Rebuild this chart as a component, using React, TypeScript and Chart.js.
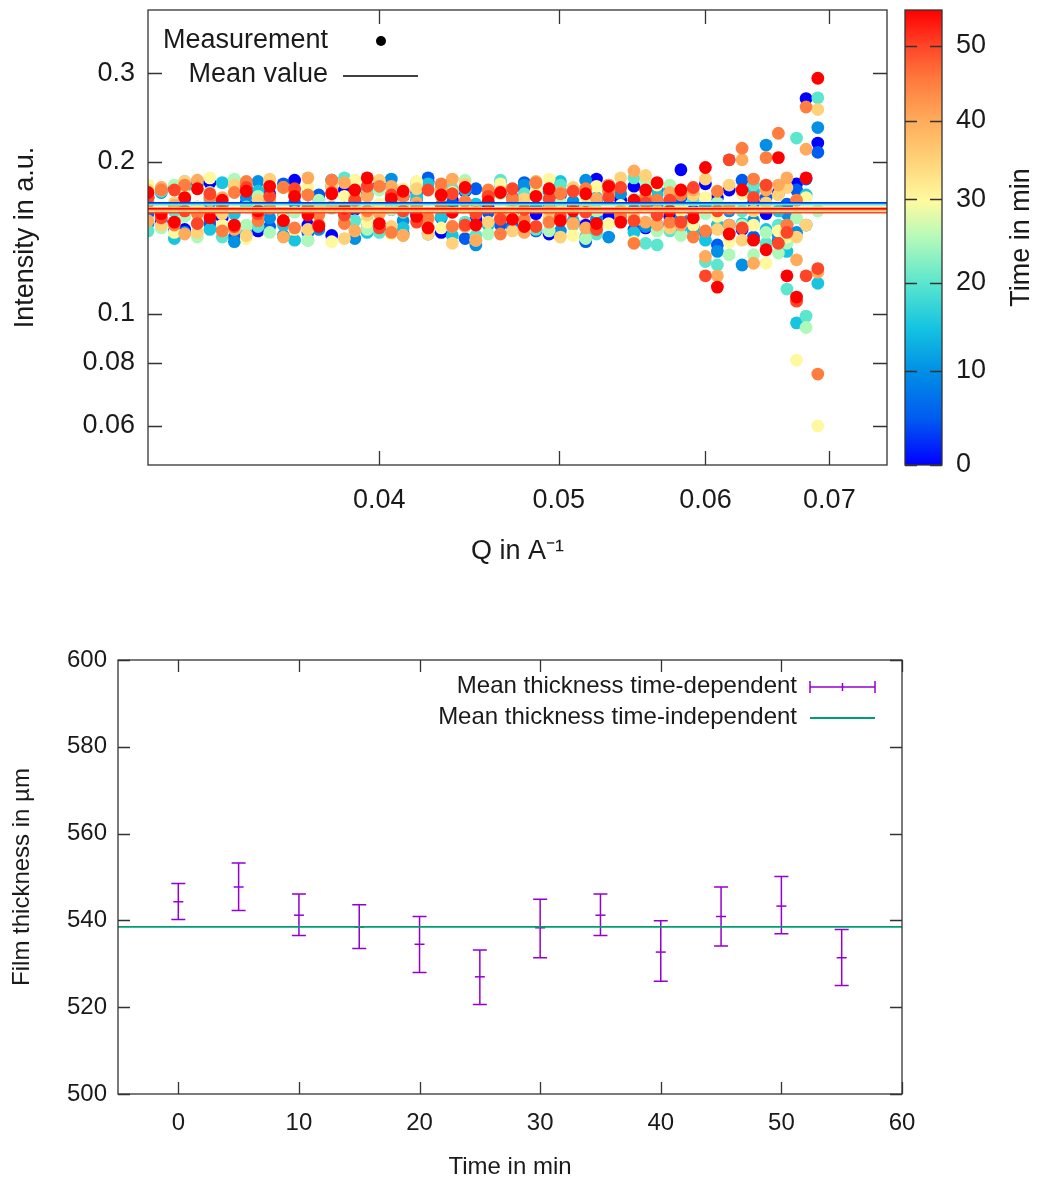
import React, { useEffect, useRef } from "react";
import { Chart, registerables } from "chart.js";

Chart.register(...registerables);

const FONT = "'Liberation Sans', Arial, sans-serif";
const TEXT = "#1a1a1a";
const FRAME = "#333333";
const PURPLE = "#9400D3";
const GREEN = "#009E73";

// ---------- top chart: intensity vs Q ----------
const Q = [
  0.0300, 0.0305, 0.0310, 0.0314, 0.0319, 0.0324, 0.0329, 0.0334, 0.0339, 0.0344,
  0.0349, 0.0355, 0.0360, 0.0366, 0.0371, 0.0377, 0.0383, 0.0388, 0.0394, 0.0400,
  0.0406, 0.0412, 0.0419, 0.0425, 0.0432, 0.0438, 0.0445, 0.0451, 0.0458, 0.0465,
  0.0472, 0.0479, 0.0486, 0.0494, 0.0501, 0.0509, 0.0517, 0.0524, 0.0532, 0.0540,
  0.0549, 0.0557, 0.0565, 0.0574, 0.0582, 0.0591, 0.0600, 0.0609, 0.0618, 0.0628,
  0.0637, 0.0647, 0.0657, 0.0664, 0.0672, 0.0680, 0.0690,
];
const TIMES = [0, 5, 10, 15, 20, 25, 30, 35, 40, 45, 50, 55];

const I_T00 = [0.170, 0.152, 0.178, 0.147, 0.160, 0.182, 0.155, 0.179, 0.166, 0.146, 0.173, 0.158, 0.184, 0.150, 0.169, 0.143, 0.176, 0.161, 0.152, 0.180, 0.148, 0.171, 0.157, 0.183, 0.145, 0.168, 0.175, 0.154, 0.162, 0.181, 0.149, 0.177, 0.158, 0.144, 0.172, 0.163, 0.150, 0.185, 0.156, 0.168, 0.179, 0.148, 0.150, 0.156, 0.193, 0.160, 0.181, 0.170, 0.176, 0.147, 0.166, 0.158, 0.174, 0.150, 0.181, 0.267, 0.218];
const I_T05 = [0.158, 0.176, 0.146, 0.169, 0.183, 0.151, 0.164, 0.142, 0.178, 0.160, 0.149, 0.181, 0.166, 0.145, 0.172, 0.184, 0.153, 0.167, 0.147, 0.179, 0.161, 0.144, 0.174, 0.186, 0.155, 0.165, 0.141, 0.177, 0.159, 0.150, 0.170, 0.182, 0.146, 0.163, 0.175, 0.152, 0.139, 0.168, 0.180, 0.157, 0.147, 0.171, 0.164, 0.176, 0.170, 0.149, 0.145, 0.137, 0.150, 0.184, 0.142, 0.170, 0.140, 0.165, 0.176, 0.185, 0.209];
const I_T10 = [0.151, 0.174, 0.160, 0.145, 0.181, 0.166, 0.149, 0.139, 0.170, 0.183, 0.155, 0.143, 0.176, 0.162, 0.147, 0.179, 0.158, 0.141, 0.172, 0.164, 0.185, 0.153, 0.168, 0.144, 0.177, 0.160, 0.150, 0.137, 0.171, 0.182, 0.148, 0.180, 0.163, 0.175, 0.146, 0.167, 0.184, 0.154, 0.142, 0.173, 0.161, 0.149, 0.176, 0.150, 0.155, 0.172, 0.164, 0.133, 0.160, 0.125, 0.153, 0.216, 0.143, 0.158, 0.145, 0.150, 0.234];
const I_T15 = [0.172, 0.155, 0.141, 0.178, 0.163, 0.147, 0.182, 0.158, 0.144, 0.175, 0.166, 0.150, 0.140, 0.173, 0.160, 0.184, 0.152, 0.169, 0.145, 0.177, 0.162, 0.148, 0.171, 0.181, 0.156, 0.143, 0.176, 0.165, 0.150, 0.180, 0.158, 0.146, 0.174, 0.161, 0.183, 0.153, 0.142, 0.170, 0.179, 0.157, 0.145, 0.167, 0.172, 0.168, 0.148, 0.146, 0.140, 0.150, 0.202, 0.151, 0.175, 0.147, 0.160, 0.133, 0.096, 0.172, 0.115];
const I_T20 = [0.146, 0.175, 0.160, 0.183, 0.151, 0.168, 0.142, 0.178, 0.163, 0.149, 0.181, 0.157, 0.172, 0.140, 0.166, 0.162, 0.186, 0.153, 0.176, 0.145, 0.170, 0.159, 0.182, 0.148, 0.164, 0.177, 0.152, 0.143, 0.169, 0.184, 0.155, 0.173, 0.147, 0.161, 0.180, 0.150, 0.167, 0.144, 0.176, 0.158, 0.186, 0.138, 0.137, 0.146, 0.175, 0.168, 0.127, 0.125, 0.145, 0.160, 0.180, 0.138, 0.150, 0.112, 0.223, 0.099, 0.268];
const I_T25 = [0.167, 0.148, 0.180, 0.156, 0.142, 0.174, 0.162, 0.185, 0.150, 0.171, 0.145, 0.178, 0.159, 0.140, 0.168, 0.182, 0.153, 0.164, 0.147, 0.176, 0.161, 0.143, 0.179, 0.155, 0.170, 0.149, 0.184, 0.158, 0.144, 0.173, 0.163, 0.151, 0.181, 0.146, 0.166, 0.177, 0.141, 0.160, 0.175, 0.152, 0.169, 0.183, 0.146, 0.180, 0.143, 0.155, 0.158, 0.166, 0.131, 0.150, 0.131, 0.145, 0.132, 0.138, 0.155, 0.094, 0.160];
const I_T30 = [0.180, 0.157, 0.145, 0.172, 0.163, 0.186, 0.150, 0.176, 0.141, 0.168, 0.182, 0.154, 0.147, 0.178, 0.160, 0.139, 0.171, 0.184, 0.152, 0.165, 0.144, 0.177, 0.183, 0.158, 0.148, 0.174, 0.162, 0.140, 0.169, 0.181, 0.155, 0.146, 0.175, 0.185, 0.159, 0.143, 0.167, 0.179, 0.151, 0.164, 0.139, 0.173, 0.180, 0.165, 0.160, 0.150, 0.170, 0.156, 0.139, 0.173, 0.150, 0.126, 0.146, 0.142, 0.081, 0.170, 0.060];
const I_T35 = [0.176, 0.150, 0.166, 0.183, 0.145, 0.171, 0.158, 0.180, 0.143, 0.168, 0.185, 0.153, 0.174, 0.147, 0.162, 0.179, 0.141, 0.170, 0.157, 0.184, 0.149, 0.165, 0.177, 0.144, 0.172, 0.138, 0.181, 0.160, 0.152, 0.175, 0.146, 0.169, 0.182, 0.155, 0.142, 0.178, 0.163, 0.148, 0.173, 0.186, 0.156, 0.188, 0.160, 0.148, 0.176, 0.172, 0.185, 0.147, 0.180, 0.140, 0.160, 0.166, 0.172, 0.178, 0.142, 0.150, 0.254];
const I_T40 = [0.153, 0.178, 0.164, 0.144, 0.184, 0.159, 0.170, 0.147, 0.181, 0.156, 0.167, 0.142, 0.175, 0.186, 0.150, 0.163, 0.182, 0.146, 0.171, 0.158, 0.179, 0.143, 0.166, 0.154, 0.176, 0.185, 0.149, 0.140, 0.173, 0.157, 0.168, 0.145, 0.183, 0.161, 0.174, 0.151, 0.148, 0.169, 0.180, 0.160, 0.192, 0.152, 0.150, 0.174, 0.150, 0.176, 0.130, 0.119, 0.150, 0.202, 0.126, 0.176, 0.180, 0.186, 0.128, 0.212, 0.121];
const I_T45 = [0.166, 0.176, 0.150, 0.180, 0.158, 0.170, 0.146, 0.174, 0.183, 0.153, 0.162, 0.178, 0.148, 0.172, 0.157, 0.184, 0.151, 0.168, 0.160, 0.179, 0.145, 0.171, 0.163, 0.155, 0.181, 0.149, 0.167, 0.159, 0.176, 0.144, 0.169, 0.154, 0.182, 0.152, 0.173, 0.161, 0.177, 0.147, 0.175, 0.156, 0.138, 0.170, 0.168, 0.152, 0.172, 0.142, 0.146, 0.175, 0.162, 0.213, 0.185, 0.204, 0.228, 0.150, 0.168, 0.257, 0.076];
const I_T50 = [0.170, 0.155, 0.176, 0.160, 0.151, 0.173, 0.165, 0.149, 0.178, 0.158, 0.171, 0.153, 0.177, 0.162, 0.150, 0.174, 0.157, 0.168, 0.179, 0.148, 0.172, 0.160, 0.152, 0.176, 0.164, 0.173, 0.150, 0.158, 0.171, 0.154, 0.177, 0.161, 0.149, 0.169, 0.156, 0.175, 0.159, 0.147, 0.170, 0.178, 0.153, 0.166, 0.157, 0.168, 0.152, 0.178, 0.119, 0.160, 0.202, 0.148, 0.170, 0.180, 0.138, 0.145, 0.106, 0.119, 0.123];
const I_T55 = [0.174, 0.158, 0.152, 0.170, 0.177, 0.155, 0.168, 0.150, 0.175, 0.160, 0.179, 0.153, 0.171, 0.157, 0.149, 0.173, 0.162, 0.176, 0.186, 0.151, 0.169, 0.175, 0.156, 0.148, 0.172, 0.159, 0.178, 0.150, 0.167, 0.174, 0.154, 0.149, 0.171, 0.177, 0.153, 0.160, 0.173, 0.151, 0.179, 0.152, 0.168, 0.176, 0.182, 0.160, 0.176, 0.155, 0.195, 0.113, 0.144, 0.176, 0.140, 0.134, 0.204, 0.119, 0.108, 0.186, 0.293];

const MEAN_I = [0.1660, 0.1656, 0.1650, 0.1612, 0.1645, 0.1620, 0.1600, 0.1592, 0.1625, 0.1608, 0.1586, 0.1616];

const Q_MIN = 0.03;
const Q_MAX = 0.0752;
const I_MIN = 0.0502;
const I_MAX = 0.40;
const Q_TICKS = [0.04, 0.05, 0.06, 0.07];
const I_TICKS = [0.06, 0.08, 0.1, 0.2, 0.3];
const TOP_LEGEND = ["Measurement", "Mean value"];

// colour box (time scale)
const CB_TICKS = [0, 10, 20, 30, 40, 50];
const CB_MAX = 55;
const CB_OFFSET = 150;

// ---------- bottom chart: film thickness ----------
const T = [0, 5, 10, 15, 20, 25, 30, 35, 40, 45, 50, 55];
const THICK_MEAN = [544.3, 547.7, 541.2, 538.5, 534.5, 527.0, 538.3, 541.2, 532.7, 540.9, 543.3, 531.4];
const THICK_LOW = [540.2, 542.3, 536.5, 533.5, 528.0, 520.6, 531.4, 536.5, 526.0, 534.1, 536.9, 525.0];
const THICK_HIGH = [548.5, 553.2, 546.1, 543.6, 540.9, 533.2, 544.9, 546.1, 539.9, 547.7, 550.1, 537.9];
const THICK_GLOBAL = 538.5;
const T_MIN = -5;
const T_MAX = 60;
const T_TICKS = [0, 10, 20, 30, 40, 50, 60];
const TH_TICKS = [500, 520, 540, 560, 580, 600];
const BOTTOM_LEGEND = ["Mean thickness time-dependent", "Mean thickness time-independent"];

// ---------- palette ----------
type RGB = [number, number, number];
const PALETTE: [number, RGB][] = [
  [0, [0, 0, 255]],
  [0.1, [0, 90, 240]],
  [0.2, [0, 140, 230]],
  [0.3, [20, 195, 225]],
  [0.4, [90, 230, 205]],
  [0.5, [180, 250, 185]],
  [0.58, [255, 250, 160]],
  [0.67, [255, 210, 120]],
  [0.76, [255, 170, 90]],
  [0.85, [255, 120, 60]],
  [0.92, [255, 70, 40]],
  [1, [255, 0, 0]],
];
const rgb = (c: RGB) => `rgb(${Math.round(c[0])},${Math.round(c[1])},${Math.round(c[2])})`;
function paletteAt(f: number): string {
  const v = Math.max(0, Math.min(1, f));
  for (let i = 1; i < PALETTE.length; i++) {
    const [f0, c0] = PALETTE[i - 1];
    const [f1, c1] = PALETTE[i];
    if (v <= f1) {
      const k = (v - f0) / (f1 - f0);
      return rgb([c0[0] + (c1[0] - c0[0]) * k, c0[1] + (c1[1] - c0[1]) * k, c0[2] + (c1[2] - c0[2]) * k]);
    }
  }
  return rgb(PALETTE[PALETTE.length - 1][1]);
}
const cbFraction = (t: number) =>
  Math.log((t + CB_OFFSET) / CB_OFFSET) / Math.log((CB_MAX + CB_OFFSET) / CB_OFFSET);

// fixed-size axis boxes without extra label padding
const fixWidth = (w: number) => (s: any) => {
  s.width = w;
  s.paddingTop = 0;
  s.paddingBottom = 0;
};
const fixHeight = (h: number) => (s: any) => {
  s.height = h;
  s.paddingLeft = 0;
  s.paddingRight = 0;
};

// ---------- plugins ----------
const frameTicks = (tickLen: number) => ({
  id: "frameTicks",
  afterDatasetsDraw(chart: any) {
    const { ctx, chartArea: a } = chart;
    const xs = chart.scales.x;
    const ys = chart.scales.y;
    ctx.save();
    ctx.strokeStyle = FRAME;
    ctx.lineWidth = 1.3;
    ctx.beginPath();
    xs.ticks.forEach((t: any) => {
      const px = Math.round(xs.getPixelForValue(t.value)) + 0.5;
      ctx.moveTo(px, a.bottom);
      ctx.lineTo(px, a.bottom - tickLen);
      ctx.moveTo(px, a.top);
      ctx.lineTo(px, a.top + tickLen);
    });
    ys.ticks.forEach((t: any) => {
      const py = Math.round(ys.getPixelForValue(t.value)) + 0.5;
      ctx.moveTo(a.left, py);
      ctx.lineTo(a.left + tickLen, py);
      ctx.moveTo(a.right, py);
      ctx.lineTo(a.right - tickLen, py);
    });
    ctx.stroke();
    ctx.strokeRect(a.left, a.top, a.right - a.left, a.bottom - a.top);
    ctx.restore();
  },
});

const topLegend = {
  id: "topLegend",
  afterDraw(chart: any) {
    const { ctx, chartArea: a } = chart;
    ctx.save();
    ctx.font = `27px ${FONT}`;
    ctx.fillStyle = TEXT;
    ctx.textAlign = "right";
    ctx.textBaseline = "middle";
    ctx.fillText(TOP_LEGEND[0], a.left + 180, a.top + 31);
    ctx.fillText(TOP_LEGEND[1], a.left + 180, a.top + 65);
    ctx.beginPath();
    ctx.arc(a.left + 233, a.top + 31, 5, 0, Math.PI * 2);
    ctx.fillStyle = "#000";
    ctx.fill();
    ctx.beginPath();
    ctx.strokeStyle = "#000";
    ctx.lineWidth = 1.5;
    ctx.moveTo(a.left + 195, a.top + 66);
    ctx.lineTo(a.left + 270, a.top + 66);
    ctx.stroke();
    ctx.restore();
  },
};

const colorBox = {
  id: "colorBox",
  beforeDatasetsDraw(chart: any) {
    const { ctx, chartArea: a } = chart;
    const g = ctx.createLinearGradient(0, a.bottom, 0, a.top);
    PALETTE.forEach(([f, c]) => g.addColorStop(f, rgb(c)));
    ctx.save();
    ctx.fillStyle = g;
    ctx.fillRect(a.left, a.top, a.right - a.left, a.bottom - a.top);
    ctx.restore();
  },
  afterDraw(chart: any) {
    const { ctx, chartArea: a } = chart;
    const ys = chart.scales.y;
    ctx.save();
    ctx.strokeStyle = FRAME;
    ctx.lineWidth = 1.3;
    ctx.beginPath();
    ys.ticks.forEach((t: any) => {
      const py = Math.round(ys.getPixelForValue(t.value)) + 0.5;
      ctx.moveTo(a.left, py);
      ctx.lineTo(a.left + 12, py);
      ctx.moveTo(a.right, py);
      ctx.lineTo(a.right - 12, py);
    });
    ctx.stroke();
    ctx.strokeRect(a.left, a.top, a.right - a.left, a.bottom - a.top);
    ctx.translate(a.right + 80, (a.top + a.bottom) / 2);
    ctx.rotate(-Math.PI / 2);
    ctx.font = `27px ${FONT}`;
    ctx.fillStyle = TEXT;
    ctx.textAlign = "center";
    ctx.textBaseline = "middle";
    ctx.fillText("Time in min", 0, 0);
    ctx.restore();
  },
};

const errorBars = {
  id: "errorBars",
  beforeDatasetsDraw(chart: any) {
    const { ctx } = chart;
    const xs = chart.scales.x;
    const ys = chart.scales.y;
    ctx.save();
    ctx.strokeStyle = PURPLE;
    ctx.lineWidth = 1.5;
    ctx.beginPath();
    T.forEach((t, i) => {
      const px = xs.getPixelForValue(t);
      const y1 = ys.getPixelForValue(THICK_LOW[i]);
      const y2 = ys.getPixelForValue(THICK_HIGH[i]);
      ctx.moveTo(px, y1);
      ctx.lineTo(px, y2);
      ctx.moveTo(px - 7, y1);
      ctx.lineTo(px + 7, y1);
      ctx.moveTo(px - 7, y2);
      ctx.lineTo(px + 7, y2);
    });
    ctx.stroke();
    ctx.restore();
  },
};

const bottomLegend = {
  id: "bottomLegend",
  afterDraw(chart: any) {
    const { ctx, chartArea: a } = chart;
    ctx.save();
    ctx.font = `24px ${FONT}`;
    ctx.fillStyle = TEXT;
    ctx.textAlign = "right";
    ctx.textBaseline = "middle";
    const tx = a.right - 105;
    ctx.fillText(BOTTOM_LEGEND[0], tx, a.top + 26);
    ctx.fillText(BOTTOM_LEGEND[1], tx, a.top + 57);
    const x0 = a.right - 92;
    const x1 = a.right - 27;
    const y0 = a.top + 27;
    ctx.strokeStyle = PURPLE;
    ctx.lineWidth = 1.5;
    ctx.beginPath();
    ctx.moveTo(x0, y0);
    ctx.lineTo(x1, y0);
    ctx.moveTo(x0, y0 - 6);
    ctx.lineTo(x0, y0 + 6);
    ctx.moveTo(x1, y0 - 6);
    ctx.lineTo(x1, y0 + 6);
    const xm = (x0 + x1) / 2;
    ctx.moveTo(xm, y0 - 4);
    ctx.lineTo(xm, y0 + 4);
    ctx.stroke();
    ctx.strokeStyle = GREEN;
    ctx.lineWidth = 1.8;
    ctx.beginPath();
    ctx.moveTo(x0, a.top + 58);
    ctx.lineTo(x1, a.top + 58);
    ctx.stroke();
    ctx.restore();
  },
};

// ---------- configs ----------
const SERIES = [I_T00, I_T05, I_T10, I_T15, I_T20, I_T25, I_T30, I_T35, I_T40, I_T45, I_T50, I_T55];

function topConfig(): any {
  const points = SERIES.map((vals, i) => {
    const c = paletteAt(cbFraction(TIMES[i]));
    return {
      type: "scatter",
      label: `${TOP_LEGEND[0]} t=${TIMES[i]} min`,
      data: Q.map((q, j) => ({ x: q, y: vals[j] })),
      pointBackgroundColor: c,
      backgroundColor: c,
      pointBorderWidth: 0,
      borderWidth: 0,
      pointRadius: 6.4,
      pointHoverRadius: 6.4,
      order: 100 - i,
    };
  });
  const means = MEAN_I.map((m, i) => ({
    type: "scatter",
    label: `${TOP_LEGEND[1]} t=${TIMES[i]} min`,
    showLine: true,
    data: [
      { x: Q_MIN, y: m },
      { x: Q_MAX, y: m },
    ],
    borderColor: paletteAt(cbFraction(TIMES[i])),
    borderWidth: 1.6,
    pointRadius: 0,
    order: 20 - i,
  }));
  const tickFont = { family: FONT, size: 27 };
  return {
    type: "scatter",
    data: { datasets: [...points, ...means] },
    options: {
      animation: false,
      responsive: false,
      devicePixelRatio: 1,
      events: [],
      layout: { autoPadding: false, padding: { top: 10, right: 8, left: 0, bottom: 0 } },
      plugins: { legend: { display: false }, tooltip: { enabled: false } },
      scales: {
        x: {
          type: "logarithmic",
          min: Q_MIN,
          max: Q_MAX,
          afterBuildTicks: (s: any) => {
            s.ticks = Q_TICKS.map((v) => ({ value: v }));
          },
          afterFit: fixHeight(115),
          grid: { display: false, drawTicks: false },
          border: { display: false },
          ticks: { autoSkip: false, maxRotation: 0, padding: 19, color: TEXT, font: tickFont, callback: (v: any) => String(v) },
          title: { display: true, text: "Q in A⁻¹", color: TEXT, font: tickFont, padding: { top: 0, bottom: 12 } },
        },
        y: {
          type: "logarithmic",
          min: I_MIN,
          max: I_MAX,
          afterBuildTicks: (s: any) => {
            s.ticks = I_TICKS.map((v) => ({ value: v }));
          },
          afterFit: fixWidth(148),
          grid: { display: false, drawTicks: false },
          border: { display: false },
          ticks: { autoSkip: false, padding: 13, color: TEXT, font: tickFont, callback: (v: any) => String(v) },
          title: { display: true, text: "Intensity in a.u.", color: TEXT, font: tickFont, padding: { top: 9, bottom: 0 } },
        },
      },
    },
    plugins: [frameTicks(14), topLegend],
  };
}

function colorBoxConfig(): any {
  return {
    type: "scatter",
    data: { datasets: [] },
    options: {
      animation: false,
      responsive: false,
      devicePixelRatio: 1,
      events: [],
      layout: { autoPadding: false, padding: { top: 10, right: 0, left: 10, bottom: 15 } },
      plugins: { legend: { display: false }, tooltip: { enabled: false } },
      scales: {
        x: { display: false, min: 0, max: 1 },
        y: {
          type: "logarithmic",
          position: "right",
          min: CB_OFFSET,
          max: CB_OFFSET + CB_MAX,
          afterBuildTicks: (s: any) => {
            s.ticks = CB_TICKS.map((v) => ({ value: v + CB_OFFSET }));
          },
          afterFit: fixWidth(95),
          grid: { display: false, drawTicks: false },
          border: { display: false },
          ticks: {
            autoSkip: false,
            padding: 14,
            color: TEXT,
            font: { family: FONT, size: 27 },
            callback: (v: any) => String(Math.round(v - CB_OFFSET)),
          },
        },
      },
    },
    plugins: [colorBox],
  };
}

function bottomConfig(): any {
  const font = { family: FONT, size: 24 };
  return {
    type: "scatter",
    data: {
      datasets: [
        {
          type: "scatter",
          label: BOTTOM_LEGEND[0],
          data: T.map((t, i) => ({ x: t, y: THICK_MEAN[i] })),
          pointStyle: "line",
          pointRadius: 5,
          pointHoverRadius: 5,
          pointBorderColor: PURPLE,
          pointBorderWidth: 1.5,
          borderColor: PURPLE,
          backgroundColor: PURPLE,
          order: 1,
        },
        {
          type: "scatter",
          label: BOTTOM_LEGEND[1],
          showLine: true,
          data: [
            { x: T_MIN, y: THICK_GLOBAL },
            { x: T_MAX, y: THICK_GLOBAL },
          ],
          borderColor: GREEN,
          borderWidth: 1.8,
          pointRadius: 0,
          order: 0,
        },
      ],
    },
    options: {
      animation: false,
      responsive: false,
      devicePixelRatio: 1,
      events: [],
      layout: { autoPadding: false, padding: { top: 60, right: 135, left: 0, bottom: 0 } },
      plugins: { legend: { display: false }, tooltip: { enabled: false } },
      scales: {
        x: {
          type: "linear",
          min: T_MIN,
          max: T_MAX,
          afterBuildTicks: (s: any) => {
            s.ticks = T_TICKS.map((v) => ({ value: v }));
          },
          afterFit: fixHeight(90),
          grid: { display: false, drawTicks: false },
          border: { display: false },
          ticks: { autoSkip: false, maxRotation: 0, padding: 15, color: TEXT, font, callback: (v: any) => String(v) },
          title: { display: true, text: "Time in min", color: TEXT, font, padding: { top: 0, bottom: 2 } },
        },
        y: {
          type: "linear",
          min: 500,
          max: 600,
          afterBuildTicks: (s: any) => {
            s.ticks = TH_TICKS.map((v) => ({ value: v }));
          },
          afterFit: fixWidth(118),
          grid: { display: false, drawTicks: false },
          border: { display: false },
          ticks: { autoSkip: false, padding: 11, color: TEXT, font, callback: (v: any) => String(v) },
          title: { display: true, text: "Film thickness in µm", color: TEXT, font, padding: { top: 8, bottom: 0 } },
        },
      },
    },
    plugins: [errorBars, frameTicks(12), bottomLegend],
  };
}

export default function App() {
  const topRef = useRef<HTMLCanvasElement>(null);
  const cbRef = useRef<HTMLCanvasElement>(null);
  const botRef = useRef<HTMLCanvasElement>(null);

  useEffect(() => {
    const charts: Chart[] = [];
    if (topRef.current) charts.push(new Chart(topRef.current, topConfig()));
    if (cbRef.current) charts.push(new Chart(cbRef.current, colorBoxConfig()));
    if (botRef.current) charts.push(new Chart(botRef.current, bottomConfig()));
    return () => charts.forEach((c) => c.destroy());
  }, []);

  return (
    <div style={{ position: "absolute", left: 0, top: 0, width: 1037, height: 1184, background: "#ffffff" }}>
      <canvas ref={topRef} width={895} height={580} style={{ position: "absolute", left: 0, top: 0, width: 895, height: 580 }} />
      <canvas ref={cbRef} width={142} height={480} style={{ position: "absolute", left: 895, top: 0, width: 142, height: 480 }} />
      <canvas ref={botRef} width={1037} height={584} style={{ position: "absolute", left: 0, top: 600, width: 1037, height: 584 }} />
    </div>
  );
}
